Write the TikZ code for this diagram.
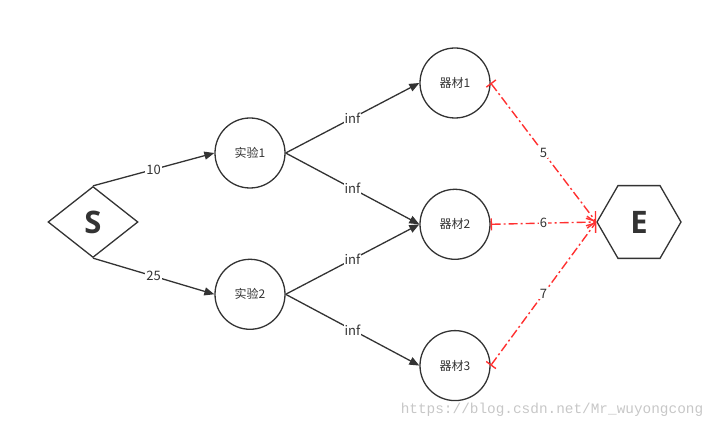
\documentclass[tikz,border=0pt]{standalone}
\usepackage{fontspec}
\setmainfont{Noto Sans CJK SC}
\newfontfamily\bigsans{Open Sans}[BoldFont={* Bold}]
\newfontfamily\markfont{Liberation Mono}
\usepackage{tikz}
\usetikzlibrary{positioning,arrows.meta,shapes.geometric}
\definecolor{ink}{RGB}{51,51,51}
\definecolor{flowred}{RGB}{255,48,48}

\begin{document}
\begin{tikzpicture}[
    x=1pt, y=-1pt,
    font=\fontsize{12}{14}\selectfont, text=ink,
    unit/.style={draw=ink, line width=1.3pt, circle, minimum size=70pt,
                 inner sep=0pt},
    src/.style={draw=ink, line width=1.3pt, diamond, minimum width=90pt,
                minimum height=71pt, inner sep=0pt,
                font=\bigsans\bfseries\fontsize{31}{34}\selectfont},
    sink/.style={draw=ink, line width=1.3pt, regular polygon,
                 regular polygon sides=6, minimum size=84pt, inner sep=0pt,
                 font=\bigsans\bfseries\fontsize{31}{34}\selectfont},
    op/.style={->, >={Triangle[length=10pt, width=8pt]}, draw=ink,
               line width=1.3pt},
    cut/.style={{Bar[width=12pt]}-{Straight Barb[length=8pt, width=12pt]},
                draw=flowred, line width=1.4pt,
                dash pattern=on 9pt off 3pt on 2pt off 3pt},
    lab/.style={fill=white, inner sep=1pt, text=ink,
                font=\fontsize{13}{15}\selectfont},
  ]
  \useasboundingbox (0,0) rectangle (713,430);
  % --- source and sink ---
  \node[src] (S) at (93,222) {S};
  \node[sink] (E) at (639,222) {E};
  % --- experiments ---
  \node[unit] (ex1) at (250,153) {实验1};
  \node[unit, below=70pt of ex1] (ex2) {实验2};
  % --- equipment ---
  \node[unit] (eq1) at (455,83) {器材1};
  \node[unit, below=70pt of eq1] (eq2) {器材2};
  \node[unit, below=70pt of eq2] (eq3) {器材3};

  \draw[op] (S.north) -- node[lab] {10} (ex1.west);
  \draw[op] (S.south) -- node[lab] {25} (ex2.west);
  \draw[op] (ex1.east) -- node[lab] {inf} (eq1.west);
  \draw[op] (ex1.east) -- node[lab] {inf} (eq2.west);
  \draw[op] (ex2.east) -- node[lab] {inf} (eq2.west);
  \draw[op] (ex2.east) -- node[lab] {inf} (eq3.west);

  \draw[cut] (eq1.east) -- node[lab] {5} (E.west);
  \draw[cut] (eq2.east) -- node[lab] {6} (E.west);
  \draw[cut] (eq3.east) -- node[lab] {7} (E.west);

  \node[font=\markfont\fontsize{14.4}{16}\selectfont, text=black!22]
    (wm) at (552,410) {https://blog.csdn.net/Mr\_wuyongcong};
\end{tikzpicture}
\end{document}
